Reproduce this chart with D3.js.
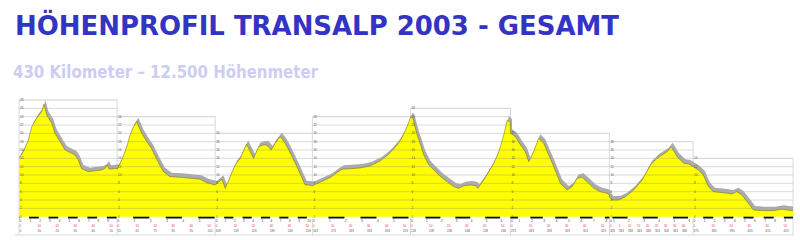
<!DOCTYPE html>
<html>
<head>
<meta charset="utf-8">
<script src="https://cdn.jsdelivr.net/npm/d3@7"></script>
<style>
  body { margin: 0; background: #fff; }
  svg { display: block; }
</style>
</head>
<body>
<div id="chart"></div>
<script>
// Stage lengths (km) and top of each panel's elevation grid (m)
const stageKm = [54.5, 54.5, 54, 54.5, 55.5, 55, 46.5, 55.5];
const stageTop = [2800, 2400, 2000, 2400, 2600, 2000, 1800, 1400];

// Profiles per stage: km from stage start, elevation in m
const stage1Km  = [0, 2.4, 5.2, 7.1, 9.8, 12.6, 13.8, 15.4, 18.2, 20, 22.8, 25.6, 28.3, 31.1, 32.9, 34.8, 38.5, 42.2, 45.9, 47.8, 49.1, 50.2, 54.5];
const stage1Ele = [1400, 1560, 1840, 2160, 2360, 2520, 2700, 2440, 2240, 2000, 1800, 1600, 1540, 1480, 1360, 1150, 1080, 1100, 1120, 1160, 1240, 1140, 1160];
const stage2Km  = [0, 2.6, 5.4, 7.2, 9.1, 10.9, 13.7, 16.5, 19.3, 22.9, 25.7, 29.4, 35, 40.6, 46.1, 49.8, 54.5];
const stage2Ele = [1140, 1360, 1680, 1960, 2160, 2280, 2000, 1800, 1620, 1300, 1080, 960, 945, 920, 900, 815, 760];
const stage3Km  = [0, 3.7, 5.6, 8.3, 11.1, 13.9, 17.4, 21.3, 24.1, 26.8, 28.7, 31.1, 33.3, 36.1, 38.9, 41.7, 45.4, 48.2, 50, 51.8, 54];
const stage3Ele = [760, 900, 680, 960, 1240, 1400, 1740, 1400, 1680, 1720, 1720, 1600, 1760, 1920, 1760, 1530, 1200, 930, 760, 760, 740];
const stage4Km  = [0, 4.4, 10, 13.7, 16.5, 21.1, 26.7, 32.2, 37.8, 42.4, 47.1, 49.8, 52.6, 54.5];
const stage4Ele = [740, 830, 940, 1060, 1140, 1150, 1170, 1220, 1340, 1500, 1720, 1900, 2160, 2380];
const stage5Km  = [0, 1.2, 3.7, 5.6, 7.4, 10.2, 12.9, 16.7, 20.4, 24.1, 26.8, 29.6, 33.3, 36.1, 37.4, 40.7, 43.5, 46.3, 49.1, 51.8, 53.7, 55.5];
const stage5Ele = [2400, 2370, 1960, 1720, 1480, 1240, 1120, 960, 840, 720, 680, 740, 760, 745, 680, 880, 1080, 1280, 1560, 1960, 2320, 2250];
const stage6Km  = [0, 2.8, 5.6, 8.3, 10.2, 12.9, 15.7, 18.5, 21.3, 24.1, 27.8, 31.5, 34.3, 37.1, 39.8, 42.6, 46.3, 50, 53.7, 55];
const stage6Ele = [2000, 1920, 1720, 1560, 1320, 1560, 1880, 1760, 1480, 1200, 800, 640, 720, 920, 945, 840, 680, 600, 560, 520];
const stage7Km  = [0, 1.5, 5.2, 8.9, 13.5, 18.2, 22.8, 26.5, 29.3, 32.1, 34.3, 37.6, 41.3, 44.1, 46.5];
const stage7Ele = [470, 400, 400, 480, 640, 880, 1240, 1400, 1480, 1560, 1680, 1440, 1280, 1265, 1200];
const stage8Km  = [0, 2.9, 5.7, 8.5, 11.3, 16.8, 21.5, 24.3, 27.1, 30.7, 33.5, 39.1, 44.6, 49.3, 54.8, 55.5];
const stage8Ele = [1200, 1120, 1000, 720, 600, 575, 545, 600, 520, 320, 160, 145, 145, 180, 145, 145];

// Ruler under each panel: interval length (km) and position of first black bar (km)
const rulerStep  = [5.4, 9.05, 5.1, 8.9, 8.3, 6.9, 8.4, 5.6];
const rulerFirst = [5.6, 8.9, 5, 8.9, 8.3, 11.1, 1.7, 5.6];

const titleText = 'HÖHENPROFIL TRANSALP 2003 - GESAMT';
const subtitleText = '430 Kilometer  \u2013 12.500 Höhenmeter';

const stageKms = [stage1Km, stage2Km, stage3Km, stage4Km, stage5Km, stage6Km, stage7Km, stage8Km];
const stageEles = [stage1Ele, stage2Ele, stage3Ele, stage4Ele, stage5Ele, stage6Ele, stage7Ele, stage8Ele];

const width = 800, height = 240;
const svg = d3.select('#chart').append('svg')
    .attr('width', width)
    .attr('height', height);

// Titles
svg.append('text')
    .attr('x', 15).attr('y', 35)
    .attr('textLength', 604).attr('lengthAdjust', 'spacingAndGlyphs')
    .style('font-family', '"DejaVu Sans", Verdana, sans-serif')
    .style('font-weight', 'bold')
    .style('font-size', '27px')
    .style('fill', '#3333c4')
    .text(titleText);
svg.append('text')
    .attr('x', 13).attr('y', 78)
    .attr('textLength', 305).attr('lengthAdjust', 'spacingAndGlyphs')
    .style('font-family', '"DejaVu Sans", Verdana, sans-serif')
    .style('font-weight', 'bold')
    .style('font-size', '17px')
    .style('fill', '#cdcdf3')
    .text(subtitleText);

// Scales
const total = d3.sum(stageKm);
const x = d3.scaleLinear().domain([0, total]).range([19, 793]);
const y = d3.scaleLinear().domain([0, 2800]).range([216.7, 100]);
const bottomY = 235;

const starts = stageKm.map((d, i) => d3.sum(stageKm.slice(0, i)));

// Build continuous profile
let profile = [];
stageKms.forEach((kms, i) => {
    kms.forEach((k, j) => profile.push({km: starts[i] + k, ele: stageEles[i][j]}));
});

const defs = svg.append('defs');
defs.append('clipPath').attr('id', 'plot-clip')
    .append('rect').attr('x', 19).attr('y', 0).attr('width', 774).attr('height', 217);

const chart = svg.append('g');

// Grid lines of every panel
function drawGrid(g, opacity) {
    stageKm.forEach((len, i) => {
        const vals = d3.range(200, stageTop[i] + 1, 200);
        g.selectAll(null)
            .data(vals)
            .join('line')
            .attr('x1', x(starts[i])).attr('x2', x(starts[i] + len))
            .attr('y1', d => y(d)).attr('y2', d => y(d))
            .style('stroke', '#8a8a8a')
            .style('stroke-opacity', d => d === stageTop[i] ? opacity + 0.1 : opacity)
            .style('stroke-width', 0.8);
    });
}
drawGrid(chart.append('g'), 0.4);

// Panel separators
const seps = d3.range(stageKm.length + 1).map(i => {
    const km = i < stageKm.length ? starts[i] : total;
    const topL = i > 0 ? stageTop[i - 1] : 0;
    const topR = i < stageKm.length ? stageTop[i] : 0;
    return {km, top: Math.max(topL, topR)};
});
chart.append('g').selectAll('line')
    .data(seps)
    .join('line')
    .attr('x1', d => x(d.km)).attr('x2', d => x(d.km))
    .attr('y1', d => y(d.top)).attr('y2', bottomY)
    .style('stroke', '#d0d0d0')
    .style('stroke-width', 0.8);
chart.append('line')
    .attr('x1', 15).attr('x2', 793)
    .attr('y1', bottomY).attr('y2', bottomY)
    .style('stroke', '#d0d0d0')
    .style('stroke-width', 0.8);

// Grey shadow: the profile area shifted up and right
const area = d3.area().x(d => x(d.km)).y0(y(0)).y1(d => y(d.ele));
const line = d3.line().x(d => x(d.km)).y(d => y(d.ele));
chart.append('g')
    .attr('clip-path', 'url(#plot-clip)')
    .append('path')
    .datum(profile)
    .attr('d', area)
    .attr('transform', 'translate(1.6,-4)')
    .style('fill', '#ababab');

// Yellow area
chart.append('path')
    .datum(profile)
    .attr('d', area)
    .style('fill', '#ffff00');

// Grid over the area
defs.append('clipPath').attr('id', 'area-clip')
    .append('path').datum(profile).attr('d', area);
drawGrid(chart.append('g').attr('clip-path', 'url(#area-clip)'), 0.45);

// Thin edge line
chart.append('path')
    .datum(profile)
    .attr('d', line)
    .style('fill', 'none')
    .style('stroke', '#6a6a00')
    .style('stroke-width', 0.5);

// Y labels at the left of each panel
stageKm.forEach((len, i) => {
    const vals = d3.range(0, stageTop[i] + 1, 200);
    chart.append('g').selectAll('text')
        .data(vals)
        .join('text')
        .attr('x', x(starts[i]) + 1)
        .attr('y', d => y(d) + 1)
        .style('font-family', 'Arial, "Liberation Sans", sans-serif')
        .style('font-size', '3px')
        .style('fill', '#555')
        .text(d => d / 100);
});

// Ruler and bottom labels
stageKm.forEach((len, i) => {
    const step = rulerStep[i];
    const segs = [];
    let s = rulerFirst[i] % (2 * step);
    if (s - step > 0) segs.push([0, s - step]);
    for (; s < len; s += 2 * step) segs.push([s, Math.min(s + step, len)]);
    chart.append('g').selectAll('rect')
        .data(segs)
        .join('rect')
        .attr('x', d => x(starts[i] + d[0]))
        .attr('width', d => x(starts[i] + d[1]) - x(starts[i] + d[0]))
        .attr('y', y(0))
        .attr('height', 1.8)
        .style('fill', '#111');

    const ticks = [];
    for (let t = rulerFirst[i] % step; t <= len - 1.5; t += step) ticks.push(t);
    const lab = chart.append('g')
        .style('font-family', 'Arial, "Liberation Sans", sans-serif')
        .style('font-size', '3px');
    lab.selectAll('.r1')
        .data([0].concat(ticks.filter(t => t > 1)))
        .join('text')
        .attr('class', 'r1')
        .attr('x', d => x(starts[i] + d) + 0.5)
        .attr('y', 222)
        .style('fill', '#333')
        .text((d, j) => j);
    const xs = d3.scaleLinear().domain([0, len]).range([x(starts[i]), x(starts[i] + len)]);
    const kmTicks = xs.ticks(7).filter(t => t <= len - 4);
    lab.selectAll('.r2')
        .data(kmTicks)
        .join('text')
        .attr('class', 'r2')
        .attr('x', d => xs(d) + 0.5)
        .attr('y', 227)
        .style('fill', '#e03a3a')
        .text(d => d);
    lab.selectAll('.r3')
        .data(kmTicks)
        .join('text')
        .attr('class', 'r3')
        .attr('x', d => xs(d) + 0.5)
        .attr('y', 232)
        .style('fill', '#555')
        .text(d => Math.round(starts[i] + d));
});
</script>
</body>
</html>
